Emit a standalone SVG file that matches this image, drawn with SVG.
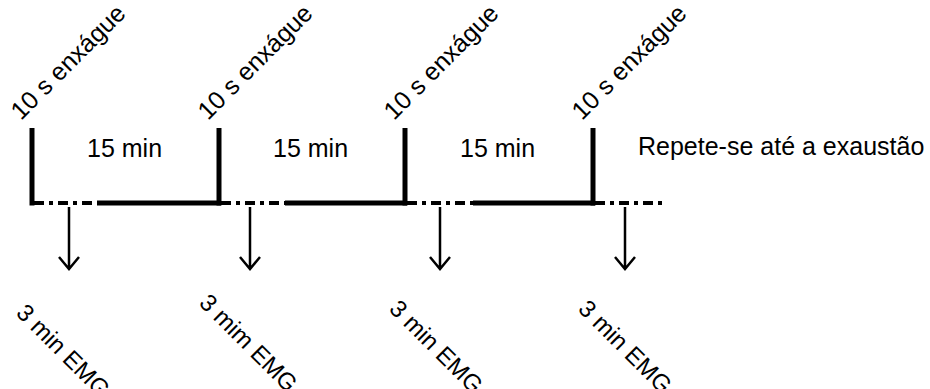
<svg xmlns="http://www.w3.org/2000/svg" width="930" height="389" viewBox="0 0 930 389">
<style>
text{font-family:"Liberation Sans",Arial,sans-serif;font-size:25px;fill:#000}
.emg{font-size:24px}
.bar{stroke:#000;stroke-width:5;fill:none}
.solid{stroke:#000;stroke-width:5;fill:none}
.dash{stroke:#000;stroke-width:4;fill:none;stroke-dasharray:10 5 4 5}
.arr{stroke:#000;stroke-width:2.5;fill:none}
</style>
<rect width="930" height="389" fill="#fff"/>
<g id="timeline">
<path class="bar" d="M32,128 V205.5"/>
<path class="bar" d="M219,128 V205.5"/>
<path class="bar" d="M405,128 V205.5"/>
<path class="bar" d="M593,128 V205.5"/>
<path class="dash" d="M34,203 H97"/>
<path class="solid" d="M97,203 H221"/>
<path class="dash" d="M221,203 H285"/>
<path class="solid" d="M285,203 H407"/>
<path class="dash" d="M407,203 H473"/>
<path class="solid" d="M473,203 H595"/>
<path class="dash" d="M595,203 H663"/>
</g>
<g id="connectors">
<path class="arr" d="M69,207 V269 M59,257 L69,269 L79,257"/>
<path class="arr" d="M250,207 V269 M240,257 L250,269 L260,257"/>
<path class="arr" d="M440,207 V269 M430,257 L440,269 L450,257"/>
<path class="arr" d="M625,207 V269 M615,257 L625,269 L635,257"/>
</g>
<g id="rinse-labels">
<text transform="translate(21,121) rotate(-45)">10 s enxágue</text>
<text transform="translate(208,121) rotate(-45)">10 s enxágue</text>
<text transform="translate(394,121) rotate(-45)">10 s enxágue</text>
<text transform="translate(582,121) rotate(-45)">10 s enxágue</text>
</g>
<g id="interval-labels">
<text x="87" y="157">15 min</text>
<text x="273" y="157">15 min</text>
<text x="460" y="157">15 min</text>
<text x="638" y="155">Repete-se até a exaustão</text>
</g>
<g id="emg-labels">
<text class="emg" transform="translate(15,314) rotate(45)">3 min EMG</text>
<text class="emg" transform="translate(198,304) rotate(45)">3 mim EMG</text>
<text class="emg" transform="translate(388,310) rotate(45)">3 min EMG</text>
<text class="emg" transform="translate(577,310) rotate(45)">3 min EMG</text>
</g>
</svg>
